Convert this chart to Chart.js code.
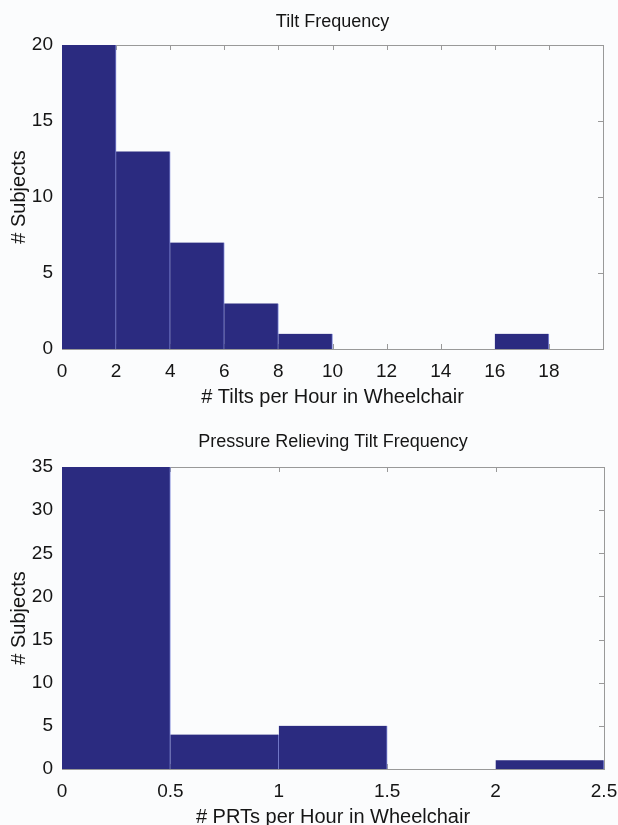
<!DOCTYPE html>
<html>
<head>
<meta charset="utf-8">
<script src="https://cdn.jsdelivr.net/npm/chart.js@4.4.1/dist/chart.umd.min.js"></script>
<style>
  html, body { margin: 0; padding: 0; background: #fbfcfd; }
  canvas { display: block; }
</style>
</head>
<body>
<canvas id="tilts" width="618" height="418"></canvas>
<canvas id="prts" width="618" height="407"></canvas>
<script>
// Histogram of tilts per hour (bin edges and subject counts)
const tiltBinEdges = [0, 2, 4, 6, 8, 10, 12, 14, 16, 18, 20];
const tiltCounts   = [20, 13, 7, 3, 1, 0, 0, 0, 1, 0];
const tiltYTicks   = [0, 5, 10, 15, 20];

// Histogram of pressure relieving tilts per hour
const prtBinEdges = [0, 0.5, 1, 1.5, 2, 2.5];
const prtCounts   = [35, 4, 5, 0, 1];
const prtYTicks   = [0, 5, 10, 15, 20, 25, 30, 35];

const FONT = "'Liberation Sans', Arial, Helvetica, sans-serif";
const INK = '#151515';
const BAR = 'rgb(43,43,128)';
const EDGE = 'rgba(120,130,215,0.9)';
const FRAME = '#999999';

function binPoints(edges, counts) {
  return counts.map((c, i) => ({ x: (edges[i] + edges[i + 1]) / 2, y: c }));
}

// Box around the plot area with inward-pointing tick marks on every side,
// plus the chart title centred over the plot area
const framePlugin = {
  id: 'frame',
  beforeDatasetsDraw(chart) {
    const { ctx, chartArea: a, scales } = chart;
    const len = 5;
    ctx.save();
    ctx.strokeStyle = FRAME;
    ctx.lineWidth = 1;
    ctx.beginPath();
    scales.x.ticks.forEach(t => {
      const px = Math.round(scales.x.getPixelForValue(t.value)) + 0.5;
      ctx.moveTo(px, a.top); ctx.lineTo(px, a.top + len);
      ctx.moveTo(px, a.bottom); ctx.lineTo(px, a.bottom - len);
    });
    scales.y.ticks.forEach(t => {
      const py = Math.round(scales.y.getPixelForValue(t.value)) + 0.5;
      ctx.moveTo(a.left, py); ctx.lineTo(a.left + len, py);
      ctx.moveTo(a.right, py); ctx.lineTo(a.right - len, py);
    });
    ctx.stroke();
    ctx.strokeRect(Math.round(a.left) + 0.5, Math.round(a.top) + 0.5,
                   Math.round(a.right - a.left), Math.round(a.bottom - a.top));
    ctx.restore();
  },
  afterDraw(chart, args, opts) {
    const { ctx, chartArea: a } = chart;
    ctx.save();
    ctx.fillStyle = INK;
    ctx.font = `18px ${FONT}`;
    ctx.textAlign = 'center';
    ctx.textBaseline = 'middle';
    ctx.fillText(opts.text, (a.left + a.right) / 2, opts.y);
    ctx.restore();
  }
};

function makeHistogram(id, opts) {
  const ctx = document.getElementById(id);
  return new Chart(ctx, {
    type: 'bar',
    data: {
      datasets: [{
        data: binPoints(opts.edges, opts.counts),
        backgroundColor: BAR,
        borderColor: EDGE,
        borderWidth: { left: 0, right: 1, top: 0, bottom: 0 },
        borderSkipped: false,
        barPercentage: 1,
        categoryPercentage: 1
      }]
    },
    options: {
      responsive: false,
      animation: false,
      devicePixelRatio: 1,
      layout: { padding: { left: 0, right: opts.rightPad, top: opts.plotTop, bottom: 0 } },
      plugins: {
        legend: { display: false },
        tooltip: { enabled: false },
        title: { display: false },
        frame: { text: opts.title, y: opts.titleY }
      },
      scales: {
        x: {
          type: 'linear',
          offset: false,
          min: opts.edges[0],
          max: opts.edges[opts.edges.length - 1],
          grid: { display: false, drawTicks: false, offset: false },
          border: { display: false },
          ticks: {
            stepSize: opts.xStep,
            padding: 11,
            color: INK,
            font: { family: FONT, size: 19 },
            maxRotation: 0,
            autoSkip: false,
            callback: (v) => opts.xLabels.includes(v) ? String(v) : ''
          },
          title: {
            display: true,
            text: opts.xTitle,
            color: INK,
            font: { family: FONT, size: 20 },
            padding: { top: 0, bottom: opts.xTitleBottom }
          },
          afterFit(s) {
            s.height = opts.xAxisHeight;
            s.paddingLeft = 0; s.paddingRight = 0;
          }
        },
        y: {
          min: opts.yTicks[0],
          max: opts.yTicks[opts.yTicks.length - 1],
          grid: { display: false, drawTicks: false },
          border: { display: false },
          afterBuildTicks(s) { s.ticks = opts.yTicks.map(v => ({ value: v })); },
          ticks: {
            padding: 9,
            color: INK,
            font: { family: FONT, size: 19 }
          },
          title: {
            display: true,
            text: '# Subjects',
            color: INK,
            font: { family: FONT, size: 20 },
            padding: { top: 7, bottom: 0 }
          },
          afterFit(s) {
            s.width = 62;
            s.paddingTop = 0; s.paddingBottom = 0;
          }
        }
      }
    },
    plugins: [framePlugin]
  });
}

makeHistogram('tilts', {
  edges: tiltBinEdges,
  counts: tiltCounts,
  yTicks: tiltYTicks,
  xStep: 2,
  xLabels: [0, 2, 4, 6, 8, 10, 12, 14, 16, 18],
  title: 'Tilt Frequency',
  xTitle: '# Tilts per Hour in Wheelchair',
  plotTop: 45,
  titleY: 22.5,
  xAxisHeight: 69,
  xTitleBottom: 9,
  rightPad: 15
});

makeHistogram('prts', {
  edges: prtBinEdges,
  counts: prtCounts,
  yTicks: prtYTicks,
  xStep: 0.5,
  xLabels: [0, 0.5, 1, 1.5, 2, 2.5],
  title: 'Pressure Relieving Tilt Frequency',
  xTitle: '# PRTs per Hour in Wheelchair',
  plotTop: 49,
  titleY: 24,
  xAxisHeight: 56,
  xTitleBottom: -4,
  rightPad: 14
});
</script>
</body>
</html>
